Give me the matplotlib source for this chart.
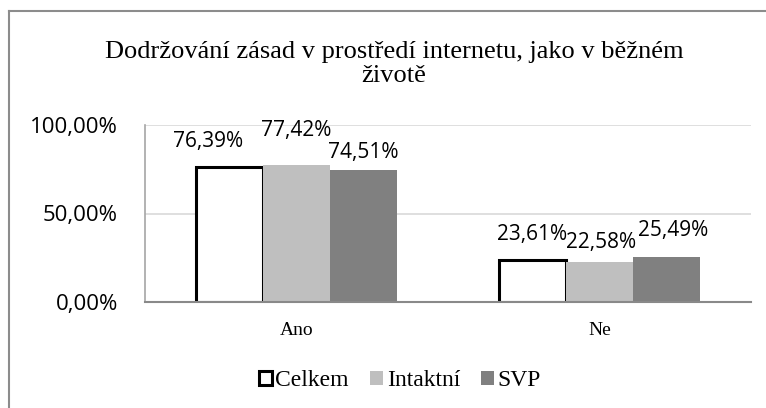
import numpy as np
import matplotlib.pyplot as plt
from matplotlib.lines import Line2D

# data
categories = ['Ano', 'Ne']
series = ['Celkem', 'Intaktní', 'SVP']
celkem = [0.7639, 0.2361]
intaktni = [0.7742, 0.2258]
svp = [0.7451, 0.2549]
values = [celkem, intaktni, svp]

colors = ['white', '#bfbfbf', '#808080']
# hand-placed label nudges (pixels) as in the original Excel chart
label_nudge = [[(-21, 25), (0, 26)],
               [(0, 34), (2, 20)],
               [(-1, 18), (6, 26)]]

fig = plt.figure(figsize=(7.66, 4.08), dpi=100)
ax = fig.add_axes([145/766, 106/408, 606/766, 177/408])

x = np.arange(len(categories))
width = 0.222
for i, (name, vals) in enumerate(zip(series, values)):
    pos = x + (i - 1) * width
    if name == 'Celkem':
        bars = ax.bar(pos, vals, width, color=colors[i], edgecolor='black',
                      linewidth=2.2, label=name, zorder=3)
    else:
        bars = ax.bar(pos, vals, width, color=colors[i], label=name, zorder=3)
    for j, b in enumerate(bars):
        txt = f'{vals[j]*100:.2f}%'.replace('.', ',')
        ax.annotate(txt, (b.get_x() + b.get_width()/2, b.get_height()),
                    xytext=label_nudge[i][j], textcoords='offset pixels',
                    ha='center', va='center', fontsize=15, family='Open Sans')

ax.set_xlim(-0.5, 1.5)
ax.set_ylim(0, 1.0)
ax.set_yticks([0, 0.5, 1.0])
ax.set_yticklabels(['0,00%', '50,00%', '100,00%'], family='Open Sans', fontsize=16)
ax.set_xticks(x)
ax.set_xticklabels(categories, family='Liberation Serif', fontsize=14)
ax.tick_params(axis='y', length=0, pad=19.5)
ax.tick_params(axis='x', length=0, pad=14.5)
ax.grid(axis='y', color='#d9d9d9', linewidth=1.2, zorder=0)
ax.set_axisbelow(True)
for s in ['top', 'right']:
    ax.spines[s].set_visible(False)
ax.spines['left'].set_color('#a6a6a6')
ax.spines['left'].set_linewidth(1.2)
ax.spines['bottom'].set_color('#898989')
ax.spines['bottom'].set_linewidth(1.5)
ax.spines['bottom'].set_zorder(4)

fig.text(394/766, 1 - 64/408, 'Dodržování zásad v prostředí internetu, jako v běžném\nživotě',
         ha='center', va='center', family='Liberation Serif', fontsize=19,
         linespacing=1.1)

fig.legend(loc='center', bbox_to_anchor=(400/766, 1 - 381/408), ncol=3,
           frameon=False, prop={'family': 'Liberation Serif', 'size': 17},
           handlelength=0.55, handleheight=0.55, handletextpad=0.15,
           columnspacing=0.9, borderpad=0)

# chart frame: only its top and left edges fall inside the image
top = 1 - 11/408
left = 9/766
fig.lines.append(Line2D([left, 1], [top, top], transform=fig.transFigure,
                        color='#8c8c8c', linewidth=1.5))
fig.lines.append(Line2D([left, left], [0, top], transform=fig.transFigure,
                        color='#8c8c8c', linewidth=1.5))

fig.savefig('out.png', dpi=100)
